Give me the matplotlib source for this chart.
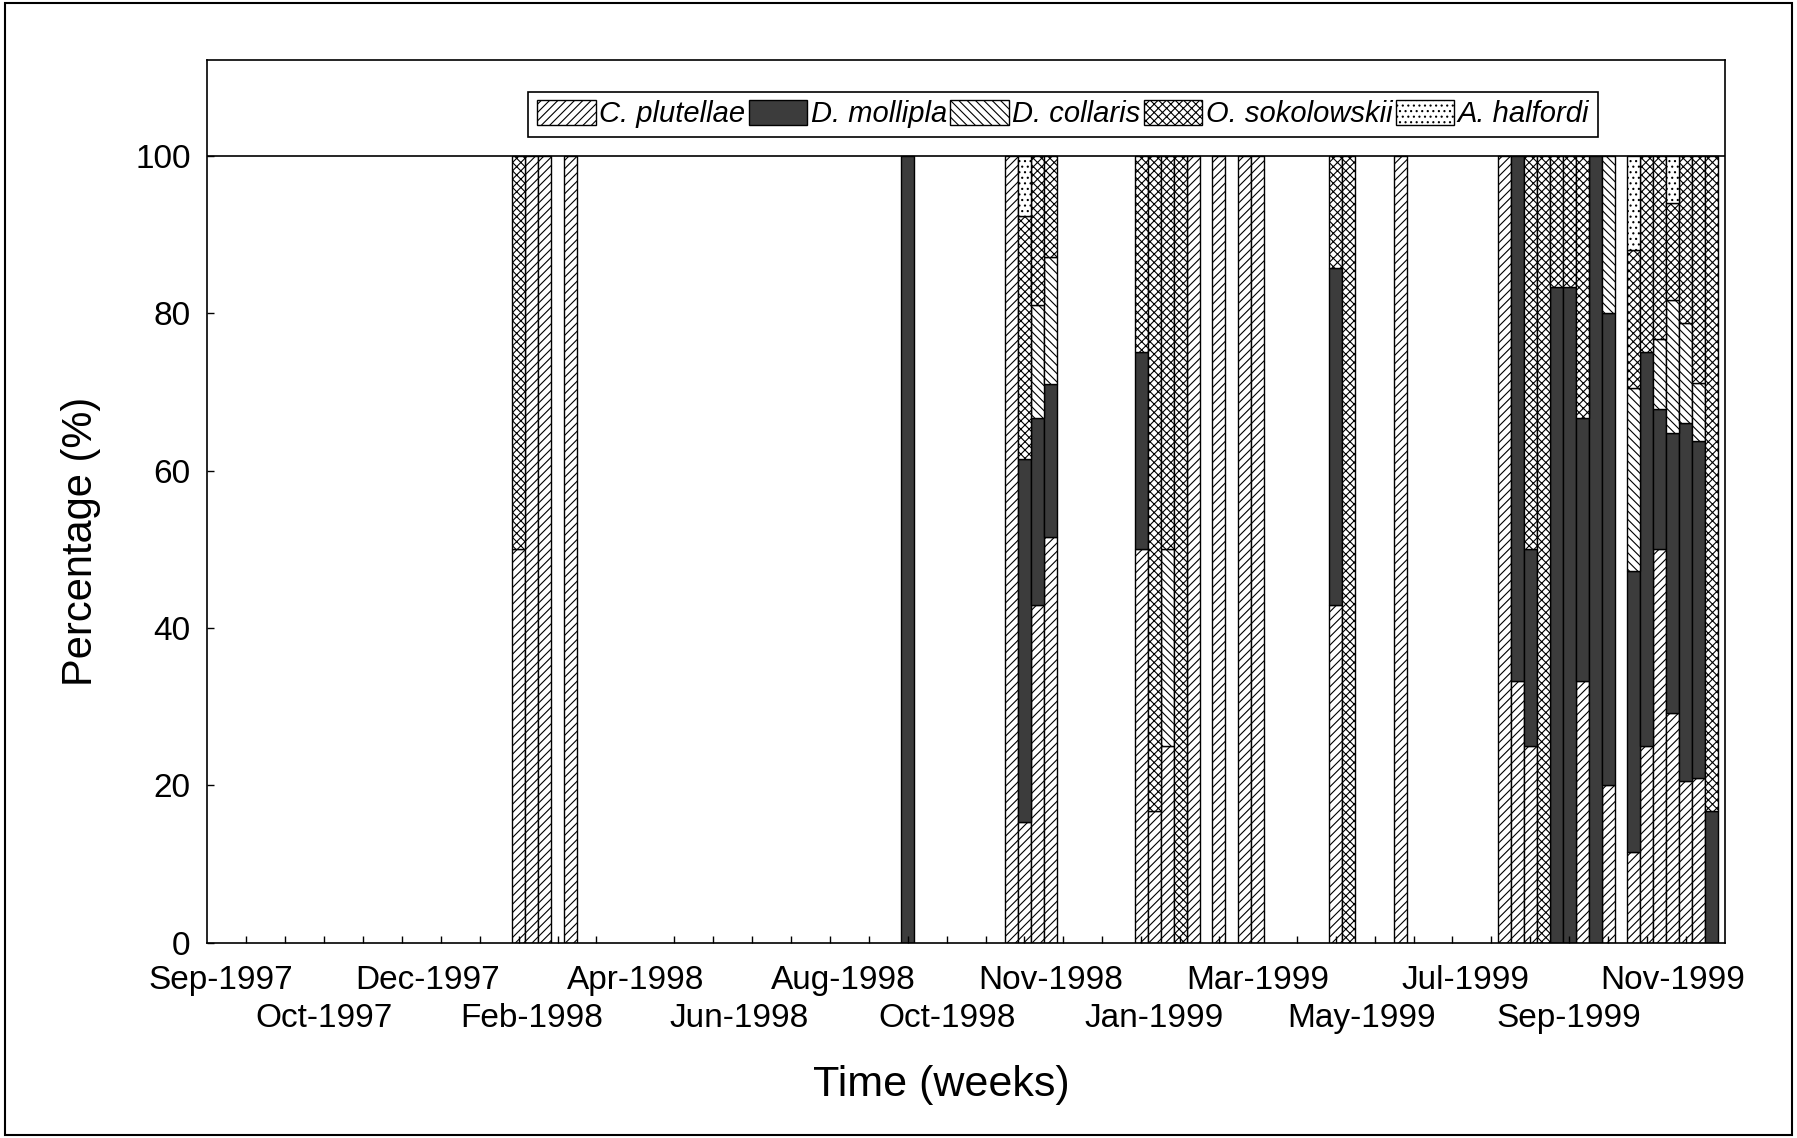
import numpy as np
import matplotlib
matplotlib.use("Agg")
import matplotlib.pyplot as plt
from matplotlib.patches import Patch, Rectangle

plt.rcParams['font.family'] = ['Liberation Sans', 'DejaVu Sans']
plt.rcParams['hatch.linewidth'] = 0.8

# week number of each sample (week 0 = first week of Sep-1997)
weeks = [23, 24, 25, 27, 53, 61, 62, 63, 64, 71, 72, 73, 74, 75, 77, 79, 80,
         86, 87, 91, 99, 100, 101, 102, 103, 104, 105, 106, 107,
         109, 110, 111, 112, 113, 114, 115]

# percentage of each parasitoid species per sample
c_plutellae = [50, 100, 100, 100, 0, 100, 15.4, 42.9, 51.6, 50, 16.7, 25, 0, 100, 100, 100, 100,
               42.9, 0, 100, 100, 33.3, 25, 0, 0, 0, 33.3, 0, 20,
               11.5, 25, 50, 29.2, 20.6, 20.9, 0]
d_mollipla = [0, 0, 0, 0, 100, 0, 46.1, 23.8, 19.4, 25, 0, 0, 0, 0, 0, 0, 0,
              42.8, 0, 0, 0, 66.7, 25, 0, 83.3, 83.3, 33.4, 100, 60,
              35.7, 50, 17.8, 35.6, 45.5, 42.9, 16.7]
d_collaris = [0, 0, 0, 0, 0, 0, 0, 14.3, 16.1, 0, 0, 25, 0, 0, 0, 0, 0,
              0, 0, 0, 0, 0, 0, 0, 0, 0, 0, 0, 20,
              23.3, 0, 8.9, 16.9, 12.6, 7.3, 0]
o_sokolowskii = [50, 0, 0, 0, 0, 0, 30.8, 19.0, 12.9, 25, 83.3, 50, 100, 0, 0, 0, 0,
                 14.3, 100, 0, 0, 0, 50, 100, 16.7, 16.7, 33.3, 0, 0,
                 17.5, 25, 23.3, 12.3, 21.3, 28.9, 83.3]
a_halfordi = [0, 0, 0, 0, 0, 0, 7.7, 0, 0, 0, 0, 0, 0, 0, 0, 0, 0,
              0, 0, 0, 0, 0, 0, 0, 0, 0, 0, 0, 0,
              12.0, 0, 0, 6.0, 0, 0, 0]

species = ['C. plutellae', 'D. mollipla', 'D. collaris', 'O. sokolowskii', 'A. halfordi']
series = [c_plutellae, d_mollipla, d_collaris, o_sokolowskii, a_halfordi]
styles = [
    dict(facecolor='white', hatch='////'),
    dict(facecolor='#3c3c3c', hatch=None),
    dict(facecolor='white', hatch='\\\\\\\\'),
    dict(facecolor='white', hatch='xxxx'),
    dict(facecolor='white', hatch='...'),
]

tick_pos = np.arange(0, 113, 8)
tick_labels = ['Sep-1997', 'Oct-1997', 'Dec-1997', 'Feb-1998', 'Apr-1998', 'Jun-1998',
               'Aug-1998', 'Oct-1998', 'Nov-1998', 'Jan-1999', 'Mar-1999', 'May-1999',
               'Jul-1999', 'Sep-1999', 'Nov-1999']

fig = plt.figure(figsize=(17.97, 11.38), dpi=100)
ax = fig.add_axes([0.1154, 0.1714, 0.8444, 0.7762])

x = np.array(weeks)
bottom = np.zeros(len(weeks))
for vals, st in zip(series, styles):
    v = np.array(vals, dtype=float)
    m = v > 0
    ax.bar(x[m], v[m], width=1.0, bottom=bottom[m], align='center',
           edgecolor='black', linewidth=1.0, **st)
    bottom += v

ax.axhline(100, color='black', linewidth=1.2)

ax.set_xlim(-1, 116)
ax.set_ylim(0, 112.2)

# month labels on two staggered rows
ax.set_xticks(tick_pos[::2])
ax.set_xticklabels(tick_labels[::2])
ax.set_xticks(np.arange(2, 116, 3), minor=True)
ax.tick_params(axis='x', which='major', length=0, pad=16, labelsize=24)
ax.tick_params(axis='x', which='minor', direction='in', length=5, width=1)

row2 = ax.secondary_xaxis('bottom')
row2.set_xticks(tick_pos[1::2])
row2.set_xticklabels(tick_labels[1::2])
row2.tick_params(axis='x', length=0, pad=43, labelsize=24)
row2.spines['bottom'].set_visible(False)

ax.set_yticks([0, 20, 40, 60, 80, 100])
ax.tick_params(axis='y', direction='in', length=5, width=1, pad=12, labelsize=24)

for s in ax.spines.values():
    s.set_linewidth(1.2)

ax.set_xlabel('Time (weeks)', fontsize=31)
ax.xaxis.set_label_coords(0.484, -0.138)
ax.set_ylabel('Percentage (%)', fontsize=30)
ax.yaxis.set_label_coords(-0.07, 0.455)

handles = [Patch(edgecolor='black', linewidth=1.0, **st) for st in styles]
leg = ax.legend(handles, species, loc='center', bbox_to_anchor=(0.564, 0.938), ncol=5,
                fancybox=False, edgecolor='black', framealpha=1,
                prop=dict(size=21, style='italic'), handlelength=2.0, handleheight=0.9,
                handletextpad=0.12, columnspacing=0.12, borderpad=0.3)
leg.get_frame().set_linewidth(1.2)

fig.add_artist(Rectangle((0.003, 0.003), 0.994, 0.994, transform=fig.transFigure,
                         fill=False, edgecolor='black', linewidth=1.5))

fig.savefig('out.png', dpi=100)
